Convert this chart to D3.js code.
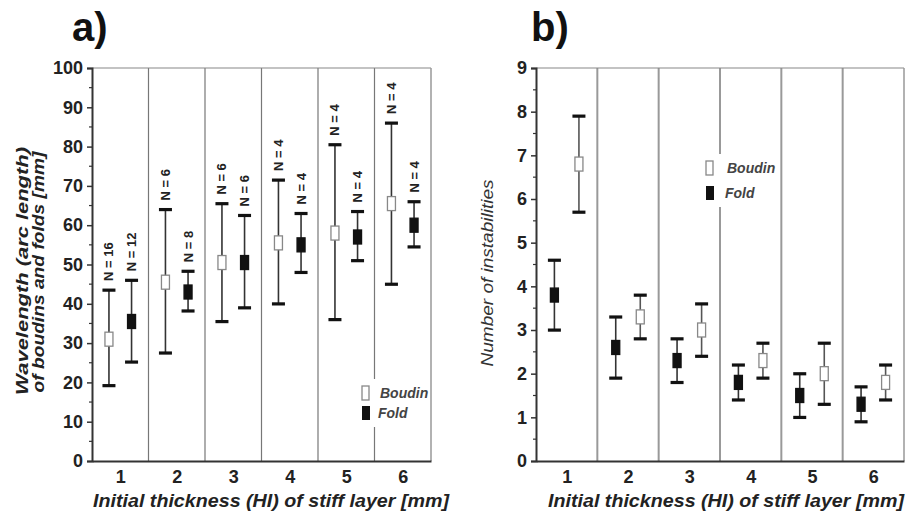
<!DOCTYPE html>
<html>
<head>
<meta charset="utf-8">
<script src="https://cdn.jsdelivr.net/npm/d3@7"></script>
<style>
  body { margin: 0; background: #fff; }
  svg { display: block; font-family: "Liberation Sans", Arial, sans-serif; }
  .tick text { font-weight: bold; font-size: 18px; fill: #222; }
  .lbl { font-weight: bold; font-style: italic; fill: #222; }
</style>
</head>
<body>
<div id="chart"></div>
<script>
const width = 912;
const height = 517;

// datos
const thickness = [1, 2, 3, 4, 5, 6];

// a) longitud de onda [mm]
const boudinWaveMean = [31, 45.5, 50.5, 55.5, 58, 65.5];
const boudinWaveMin  = [19.2, 27.5, 35.5, 40, 36, 45];
const boudinWaveMax  = [43.5, 64, 65.5, 71.5, 80.5, 86];
const boudinWaveN    = [16, 6, 6, 4, 4, 4];
const foldWaveMean   = [35.5, 43, 50.5, 55, 57, 60];
const foldWaveMin    = [25.2, 38.2, 39, 48, 51, 54.5];
const foldWaveMax    = [46, 48.3, 62.5, 63, 63.5, 66];
const foldWaveN      = [12, 8, 6, 4, 4, 4];

// b) numero de inestabilidades
const foldCountMean   = [3.8, 2.6, 2.3, 1.8, 1.5, 1.3];
const foldCountMin    = [3.0, 1.9, 1.8, 1.4, 1.0, 0.9];
const foldCountMax    = [4.6, 3.3, 2.8, 2.2, 2.0, 1.7];
const boudinCountMean = [6.8, 3.3, 3.0, 2.3, 2.0, 1.8];
const boudinCountMin  = [5.7, 2.8, 2.4, 1.9, 1.3, 1.4];
const boudinCountMax  = [7.9, 3.8, 3.6, 2.7, 2.7, 2.2];

const yTicksA = d3.range(0, 101, 10);
const yTicksB = d3.range(0, 10, 1);

const svg = d3.select('#chart').append('svg')
  .attr('width', width)
  .attr('height', height);

// dibuja un panel completo
function drawPanel(opt) {
  const g = svg.append('g');
  const x = d3.scaleLinear().domain([0.5, 6.5]).range([opt.left, opt.right]);
  const y = d3.scaleLinear().domain([0, opt.ymax]).range([461, 68]);

  // separadores verticales y marco
  g.selectAll('.sep')
    .data(d3.range(1.5, 6.5, 1))
    .enter().append('line')
    .attr('x1', d => x(d)).attr('x2', d => x(d))
    .attr('y1', y(opt.ymax)).attr('y2', y(0))
    .attr('stroke', opt.sepColor)
    .attr('stroke-width', opt.sepWidth);

  g.append('line')
    .attr('x1', x(0.5)).attr('x2', x(6.5))
    .attr('y1', y(opt.ymax)).attr('y2', y(opt.ymax))
    .attr('stroke', '#888').attr('stroke-width', 1.2);
  g.append('line')
    .attr('x1', x(6.5)).attr('x2', x(6.5))
    .attr('y1', y(opt.ymax)).attr('y2', y(0))
    .attr('stroke', '#999').attr('stroke-width', 1.5);

  // leyenda con fondo blanco
  const leg = g.append('g').attr('transform', `translate(${opt.legX}, ${opt.legY})`);
  leg.append('rect')
    .attr('x', -6).attr('y', -14).attr('width', 72).attr('height', opt.legGap + 28)
    .attr('fill', '#fff');
  leg.append('rect')
    .attr('x', 0).attr('y', -7).attr('width', 7).attr('height', 14)
    .attr('fill', '#fff').attr('stroke', '#888').attr('stroke-width', 1.3);
  leg.append('rect')
    .attr('x', 0).attr('y', opt.legGap - 7).attr('width', 8).attr('height', 14)
    .attr('fill', '#111');
  leg.append('text').attr('class', 'lbl')
    .attr('x', opt.legText).attr('y', 5)
    .style('font-size', '14px').style('fill', '#444')
    .text('Boudin');
  leg.append('text').attr('class', 'lbl')
    .attr('x', opt.legText - 2).attr('y', opt.legGap + 5)
    .style('font-size', '14px').style('fill', '#444')
    .text('Fold');

  // ejes
  const yAxis = g.append('g')
    .attr('transform', `translate(${opt.left}, 0)`)
    .call(d3.axisLeft(y).tickValues(opt.ticks).tickSize(5).tickPadding(4).tickFormat(d3.format('d')));
  yAxis.select('.domain').attr('stroke', '#333').attr('stroke-width', 2);
  yAxis.selectAll('.tick line').attr('stroke', '#333').attr('stroke-width', 1.5);

  g.append('g')
    .attr('transform', `translate(${opt.left}, 0)`)
    .selectAll('line')
    .data(opt.minor)
    .enter().append('line')
    .attr('x1', -3).attr('x2', 0)
    .attr('y1', d => y(d)).attr('y2', d => y(d))
    .attr('stroke', '#333').attr('stroke-width', 1.2);

  const xAxis = g.append('g')
    .attr('transform', `translate(0, ${y(0)})`)
    .call(d3.axisBottom(x).tickValues(thickness).tickSize(0).tickPadding(9).tickFormat(d3.format('d')));
  xAxis.select('.domain').attr('stroke', '#333').attr('stroke-width', 2);

  // series
  opt.series.forEach(s => {
    const sg = g.append('g');
    thickness.forEach((t, i) => {
      const cx = x(t + s.dx);
      sg.append('line')
        .attr('x1', cx).attr('x2', cx)
        .attr('y1', y(s.min[i])).attr('y2', y(s.max[i]))
        .attr('stroke', s.barColor).attr('stroke-width', 1.6);
      [s.min[i], s.max[i]].forEach(v => {
        sg.append('rect')
          .attr('x', cx - 6.5).attr('y', y(v) - 1.5)
          .attr('width', 13).attr('height', 3.2)
          .attr('fill', '#111');
      });
      sg.append('rect')
        .attr('x', cx - 4).attr('y', y(s.mean[i]) - 7)
        .attr('width', 8).attr('height', 14)
        .attr('fill', s.fill)
        .attr('stroke', s.stroke)
        .attr('stroke-width', 1.3);
      if (s.n) {
        sg.append('text')
          .attr('transform', `translate(${cx + 4.5}, ${y(s.max[i]) - 9}) rotate(-90)`)
          .style('font-size', '13px').style('font-weight', 'bold').style('fill', '#222')
          .text(`N = ${s.n[i]}`);
      }
    });
  });
  return g;
}

drawPanel({
  left: 92, right: 431, ymax: 100,
  ticks: yTicksA, minor: d3.range(5, 100, 10),
  sepColor: '#777', sepWidth: 1.2,
  legX: 362, legY: 393, legGap: 20, legText: 18,
  series: [
    { dx: -0.2, mean: boudinWaveMean, min: boudinWaveMin, max: boudinWaveMax, n: boudinWaveN,
      fill: '#fff', stroke: '#888', barColor: '#333' },
    { dx: 0.2, mean: foldWaveMean, min: foldWaveMin, max: foldWaveMax, n: foldWaveN,
      fill: '#111', stroke: '#111', barColor: '#333' }
  ]
});

drawPanel({
  left: 536, right: 904, ymax: 9,
  ticks: yTicksB, minor: d3.range(0.5, 9, 1),
  sepColor: '#999', sepWidth: 2,
  legX: 706, legY: 168, legGap: 25, legText: 21,
  series: [
    { dx: -0.2, mean: foldCountMean, min: foldCountMin, max: foldCountMax,
      fill: '#111', stroke: '#111', barColor: '#333' },
    { dx: 0.2, mean: boudinCountMean, min: boudinCountMin, max: boudinCountMax,
      fill: '#fff', stroke: '#888', barColor: '#555' }
  ]
});

// titulos de ejes
svg.append('text').attr('class', 'lbl')
  .attr('transform', 'translate(28, 271) rotate(-90)')
  .attr('text-anchor', 'middle')
  .attr('textLength', 248).attr('lengthAdjust', 'spacingAndGlyphs')
  .style('font-size', '17px')
  .text('Wavelength (arc length)');
svg.append('text').attr('class', 'lbl')
  .attr('transform', 'translate(44, 272) rotate(-90)')
  .attr('text-anchor', 'middle')
  .attr('textLength', 241).attr('lengthAdjust', 'spacingAndGlyphs')
  .style('font-size', '17px')
  .text('of boudins and folds [mm]');
svg.append('text')
  .attr('transform', 'translate(493, 273) rotate(-90)')
  .attr('text-anchor', 'middle')
  .attr('textLength', 187).attr('lengthAdjust', 'spacingAndGlyphs')
  .style('font-size', '16px').style('font-style', 'italic').style('fill', '#333')
  .text('Number of instabilities');

svg.append('text').attr('class', 'lbl')
  .attr('x', 271).attr('y', 507)
  .attr('text-anchor', 'middle')
  .attr('textLength', 356).attr('lengthAdjust', 'spacingAndGlyphs')
  .style('font-size', '18px')
  .text('Initial thickness (HI) of stiff layer [mm]');
svg.append('text').attr('class', 'lbl')
  .attr('x', 726).attr('y', 507)
  .attr('text-anchor', 'middle')
  .attr('textLength', 356).attr('lengthAdjust', 'spacingAndGlyphs')
  .style('font-size', '18px')
  .text('Initial thickness (HI) of stiff layer [mm]');

// etiquetas de panel
svg.append('text')
  .attr('x', 72).attr('y', 41)
  .style('font-size', '40px').style('font-weight', 'bold').style('fill', '#111')
  .text('a)');
svg.append('text')
  .attr('x', 531).attr('y', 41)
  .style('font-size', '40px').style('font-weight', 'bold').style('fill', '#111')
  .text('b)');
</script>
</body>
</html>
